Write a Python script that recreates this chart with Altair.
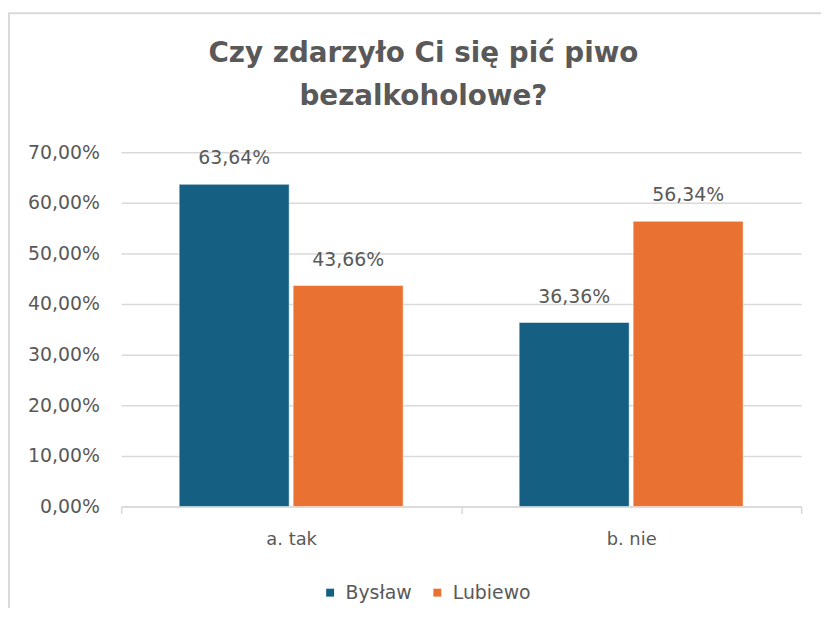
import altair as alt
import pandas as pd

categories = ["a. tak", "a. tak", "b. nie", "b. nie"]
series = ["Bysław", "Lubiewo", "Bysław", "Lubiewo"]
values = [0.6364, 0.4366, 0.3636, 0.5634]
series_order = ["Bysław", "Lubiewo"]
colors = ["#156082", "#E97132"]
y_ticks = [0, 0.1, 0.2, 0.3, 0.4, 0.5, 0.6, 0.7]

df = pd.DataFrame({"cat": categories, "series": series, "value": values})
df["label"] = [f"{v*100:.2f}%".replace(".", ",") for v in values]

GRAY = "#595959"
FONT = "DejaVu Sans"

x = alt.X("cat:N", title=None, sort=None,
          scale=alt.Scale(paddingInner=0, paddingOuter=0),
          axis=alt.Axis(labelAngle=0, tickBand="extent", labelFontSize=18,
                        labelColor=GRAY, labelFont=FONT, domainColor="#d9d9d9",
                        domainWidth=1.5, tickColor="#d9d9d9", tickWidth=1.5,
                        tickSize=7, labelPadding=17, grid=False))
xoff = alt.XOffset("series:N", sort=series_order,
                   scale=alt.Scale(paddingInner=0.035, paddingOuter=0.509))
y = alt.Y("value:Q", title=None,
          scale=alt.Scale(domain=[0, 0.7]),
          axis=alt.Axis(values=y_ticks, labelExpr="replace(format(datum.value, '.2%'), '.', ',')",
                        labelFontSize=19, labelColor=GRAY, labelFont=FONT,
                        labelPadding=22, ticks=False, domain=False,
                        gridColor="#d9d9d9", gridWidth=1.5))

border = alt.Chart(pd.DataFrame({"a": [0]})).mark_rect(
    fill=None, stroke="#d9d9d9", strokeWidth=2
).encode(x=alt.value(-113), x2=alt.value(760), y=alt.value(-140), y2=alt.value(480))

bars = alt.Chart(df).mark_bar(stroke="white", strokeWidth=0.5).encode(
    x=x, xOffset=xoff, y=y,
    color=alt.Color("series:N", sort=series_order,
                    scale=alt.Scale(domain=series_order, range=colors),
                    legend=alt.Legend(title=None, orient="none", direction="horizontal",
                                      legendX=201, legendY=434, symbolType="square",
                                      symbolSize=64, symbolStrokeWidth=0,
                                      labelFontSize=19, labelColor=GRAY, labelFont=FONT,
                                      columnPadding=16, labelOffset=6))
)

labels = alt.Chart(df).mark_text(fontSize=19, color=GRAY, font=FONT, dy=-20,
                                 baseline="alphabetic").encode(
    x=alt.X("cat:N", sort=None), xOffset=alt.XOffset("series:N", sort=series_order),
    y="value:Q", text="label:N"
)

chart = alt.layer(border, bars, labels).properties(
    width=685, height=357,
    title=alt.TitleParams(text=["Czy zdarzyło Ci się pić piwo", "bezalkoholowe?"],
                          fontSize=28, font="DejaVu Sans", fontWeight="bold",
                          color=GRAY, anchor="middle", dx=-38, offset=0, dy=100,
                          lineHeight=44),
    autosize=alt.AutoSizeParams(type="none"),
    padding={"left": 114, "top": 143, "right": 20, "bottom": 100}
).configure_view(stroke=None)

chart.save("out.html", embed_options={"renderer": "svg", "actions": False})
